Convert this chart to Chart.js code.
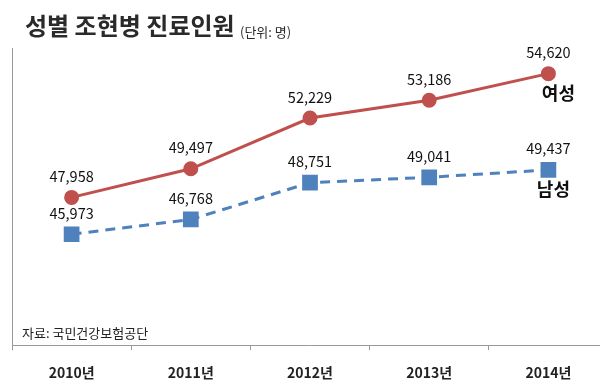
<!DOCTYPE html>
<html>
<head>
<meta charset="utf-8">
<script src="https://cdn.jsdelivr.net/npm/chart.js@4"></script>
<style>
  html, body { margin: 0; padding: 0; background: #fff; overflow: hidden; width: 600px; height: 387px; }
</style>
</head>
<body>
<canvas id="myChart" width="620" height="402"></canvas>
<script>
var years = ["2010년", "2011년", "2012년", "2013년", "2014년"];
var female = [47958, 49497, 52229, 53186, 54620];
var male = [45973, 46768, 48751, 49041, 49437];
var seriesNames = ["여성", "남성"];

var FONT = "'Noto Sans CJK KR', 'Noto Sans', sans-serif";

var labelPlugin = {
    id: 'labels',
    afterDatasetsDraw: function (chart) {
        var c = chart.ctx;
        c.save();
        // title
        c.fillStyle = '#2a2a2a';
        c.textBaseline = 'alphabetic';
        c.textAlign = 'left';
        c.font = "bold 24px " + FONT;
        c.fillText("성별 조현병 진료인원", 25, 35);
        c.font = "13px " + FONT;
        c.fillText("(단위: 명)", 240, 37);
        // source
        c.textBaseline = 'middle';
        c.font = "13px " + FONT;
        c.fillStyle = '#222';
        c.fillText("자료: 국민건강보험공단", 22, 333);

        // value labels + series names
        var nameOffset = [[10, 20], [5, 19]];
        c.textAlign = 'center';
        c.fillStyle = '#111';
        chart.data.datasets.forEach(function (ds, i) {
            var meta = chart.getDatasetMeta(i);
            c.font = "14.5px " + FONT;
            meta.data.forEach(function (pt, j) {
                c.fillText(ds.data[j].toLocaleString('en-US'), pt.x, pt.y - 21);
            });
            var last = meta.data[meta.data.length - 1];
            c.font = "bold 18px " + FONT;
            c.fillText(seriesNames[i], last.x + nameOffset[i][0], last.y + nameOffset[i][1]);
        });
        c.restore();
    }
};

var ctx = document.getElementById("myChart").getContext('2d');
var myChart = new Chart(ctx, {
    type: 'line',
    data: {
        labels: years,
        datasets: [{
            label: seriesNames[0],
            data: female,
            borderColor: '#C0504D',
            backgroundColor: '#C0504D',
            borderWidth: 3,
            pointStyle: 'circle',
            pointRadius: 6,
            pointHoverRadius: 6,
            tension: 0
        }, {
            label: seriesNames[1],
            data: male,
            borderColor: '#4F81BD',
            backgroundColor: '#4F81BD',
            borderWidth: 3,
            borderDash: [10, 7],
            pointStyle: 'rect',
            pointRadius: 9,
            pointHoverRadius: 9,
            tension: 0
        }]
    },
    options: {
        responsive: false,
        animation: false,
        layout: {
            padding: { left: 4, right: 8, top: 48, bottom: 7 }
        },
        plugins: {
            legend: { display: false },
            tooltip: { enabled: false }
        },
        scales: {
            x: {
                offset: true,
                grid: {
                    offset: true,
                    drawOnChartArea: false,
                    tickLength: 5,
                    color: '#999'
                },
                border: { color: '#999', width: 1 },
                ticks: {
                    color: '#222',
                    padding: 14,
                    font: { family: FONT, size: 14, weight: 'bold' }
                }
            },
            y: {
                min: 40000,
                max: 56000,
                grid: { display: false },
                border: { color: '#999', width: 1 },
                ticks: { display: false }
            }
        }
    },
    plugins: [labelPlugin]
});
</script>
</body>
</html>
